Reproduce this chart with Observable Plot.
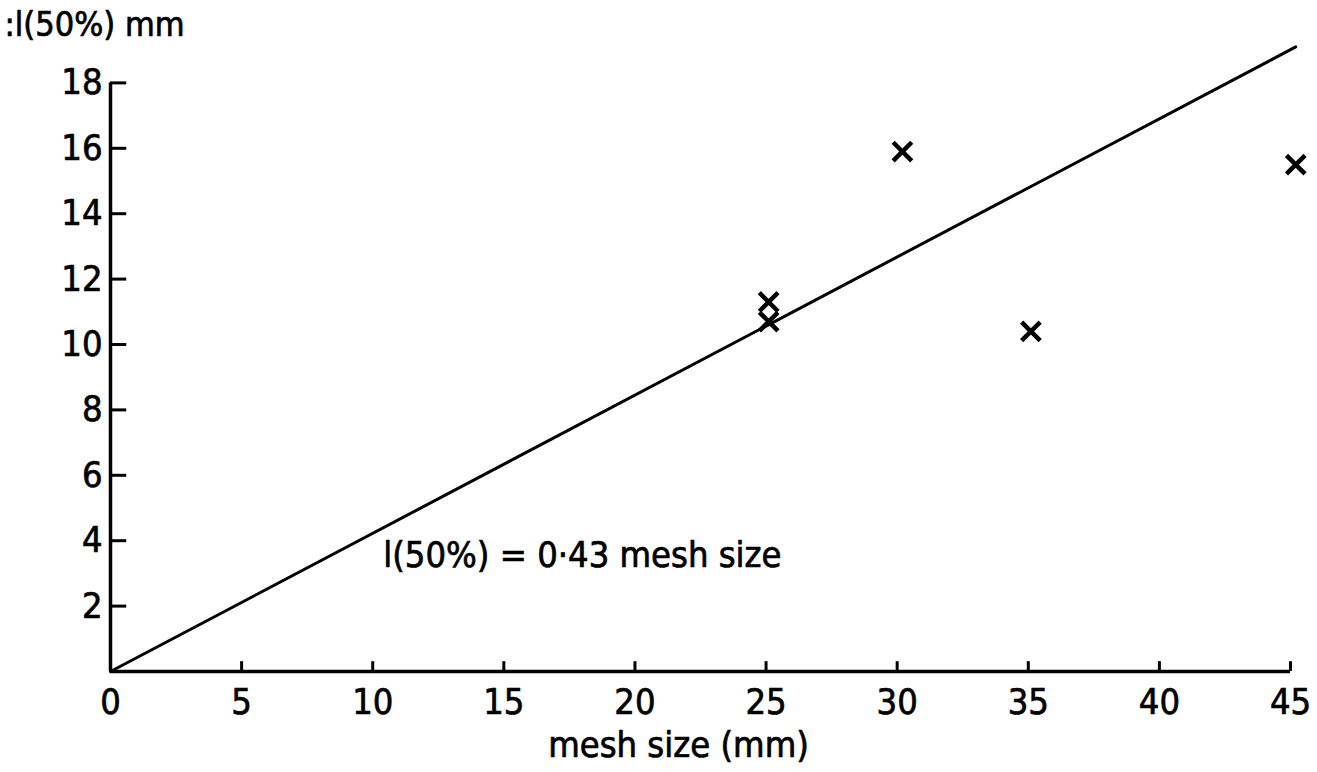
<!DOCTYPE html>
<html>
<head>
<meta charset="utf-8">
<script src="https://cdn.jsdelivr.net/npm/d3@7"></script>
<script src="https://cdn.jsdelivr.net/npm/@observablehq/plot@0.6"></script>
<style>
  html, body { margin: 0; padding: 0; background: #fff; }
  #chart svg { display: block; }
  #chart svg text { stroke: #000; stroke-width: 0.7px; }
</style>
</head>
<body>
<div id="chart"></div>
<script>
// Observations: mesh size (mm) vs l(50%) (mm)
const meshSize = [25.1, 25.1, 30.2, 35.1, 45.2];
const l50 = [11.3, 10.7, 15.9, 10.4, 15.5];

// Fitted line l(50%) = 0.43 * mesh size, end points
const lineX = [0, 45.2];
const lineY = [0, 19.1];

const xTicks = [0, 5, 10, 15, 20, 25, 30, 35, 40, 45];
const yTicks = [2, 4, 6, 8, 10, 12, 14, 16, 18];

const yTitle = ":l(50%) mm";
const xTitle = "mesh size (mm)";
const equationText = "l(50%) = 0·43 mesh size";
const equationAt = [{x: 10.4, y: 3.55}];

const points = meshSize.map((m, i) => ({x: m, y: l50[i]}));
const fit = lineX.map((x, i) => ({x, y: lineY[i]}));

const font = "'Liberation Sans Narrow', 'DejaVu Sans Condensed', 'Liberation Sans', sans-serif";

const chart = Plot.plot({
  width: 1317,
  height: 772,
  marginLeft: 110,
  marginRight: 27,
  marginTop: 17,
  marginBottom: 101,
  style: {fontFamily: font, fontSize: "36px", color: "#000", background: "#fff"},
  x: {domain: [0, 45]},
  y: {domain: [0, 20]},
  marks: [
    // axis lines
    Plot.ruleY([0], {x1: 0, x2: 45, stroke: "#000", strokeWidth: 3.5}),
    Plot.ruleX([0], {y1: 0, y2: 18, stroke: "#000", strokeWidth: 3.5}),
    // inward ticks
    Plot.ruleY(yTicks, {y: d => d, x1: 0, x2: 0.62, stroke: "#000", strokeWidth: 3}),
    Plot.ruleX(xTicks.filter(d => d > 0), {x: d => d, y1: 0, y2: 0.3, stroke: "#000", strokeWidth: 3}),
    Plot.axisX(xTicks, {tickSize: 0, tickPadding: 17, label: null, fontSize: 36, tickFormat: d => String(d)}),
    Plot.axisY(yTicks, {tickSize: 0, tickPadding: 8, label: null, fontSize: 36, tickFormat: d => String(d)}),
    // fitted line
    Plot.line(fit, {x: "x", y: "y", stroke: "#000", strokeWidth: 3}),
    // observations
    Plot.dot(points, {x: "x", y: "y", symbol: "times", r: 8.5, stroke: "#000", strokeWidth: 4.5}),
    // annotation
    Plot.text(equationAt, {x: "x", y: "y", text: () => equationText, textAnchor: "start", fontSize: 36, fill: "#000"}),
    // titles
    Plot.text([yTitle], {frameAnchor: "top-left", text: d => d, dx: -106, dy: 8, textAnchor: "start", lineAnchor: "middle", fontSize: 34, fill: "#000"}),
    Plot.text([xTitle], {frameAnchor: "bottom", text: d => d, dx: -22, dy: 74, lineAnchor: "middle", fontSize: 36, fill: "#000"})
  ]
});
document.getElementById("chart").appendChild(chart);
</script>
</body>
</html>
